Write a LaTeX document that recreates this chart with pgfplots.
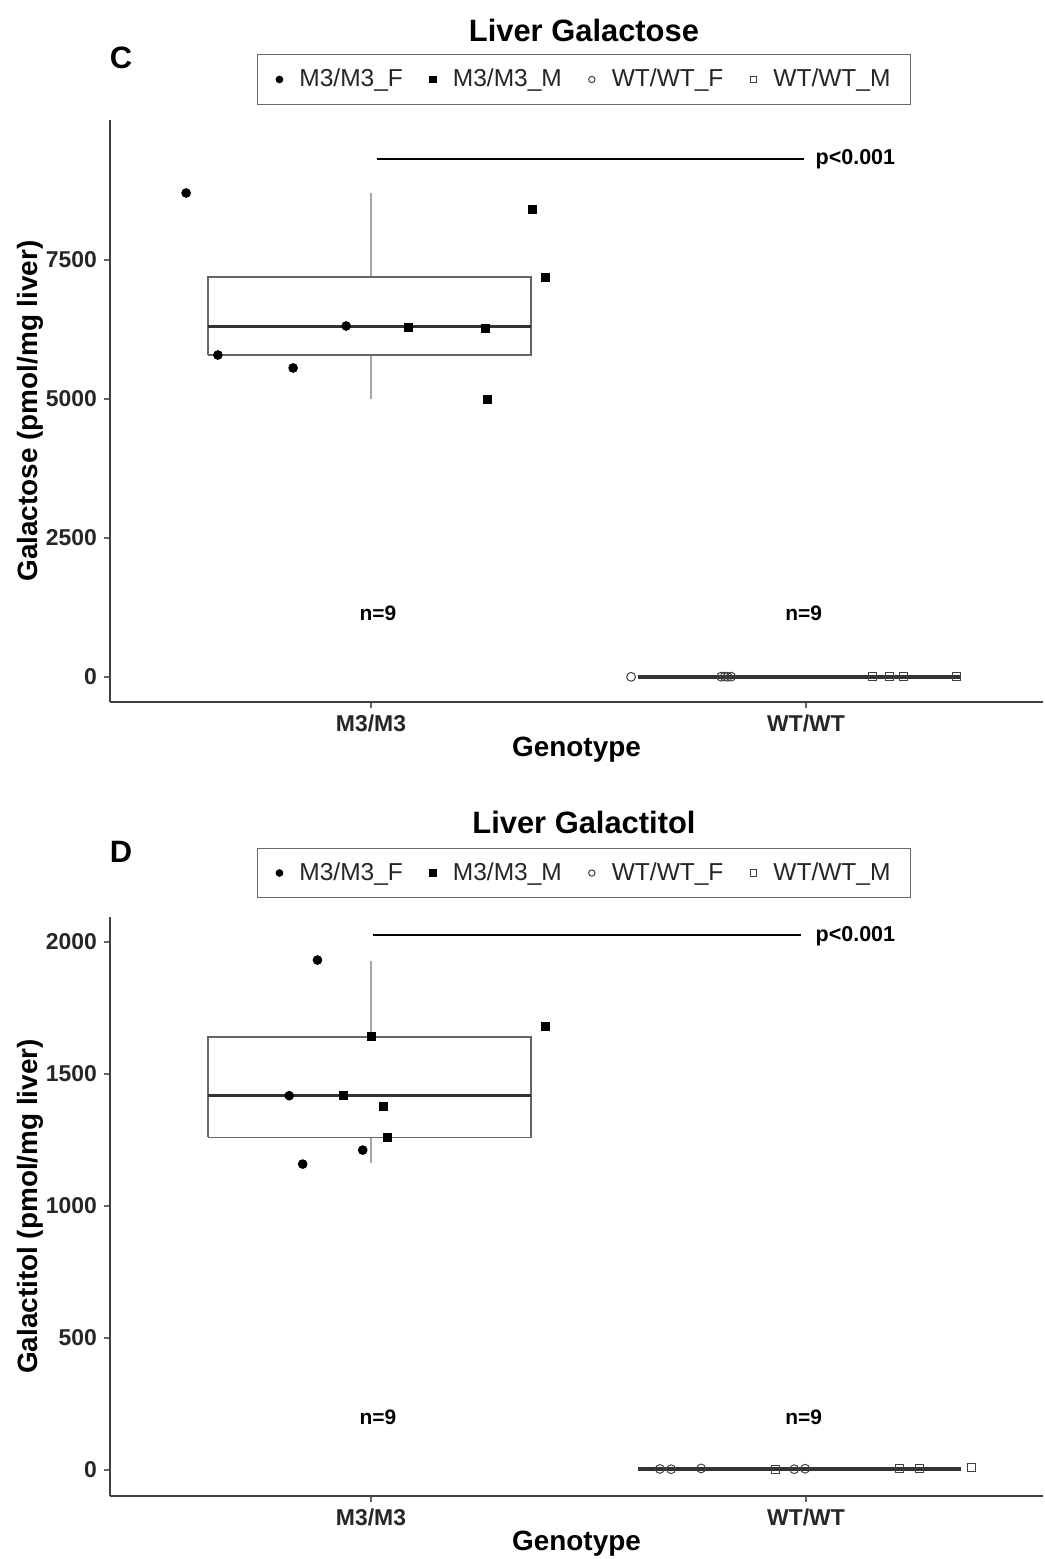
\documentclass[border=0pt]{standalone}
\usepackage{fontspec}
\setmainfont{Liberation Sans}
\usepackage{pgfplots}
\pgfplotsset{compat=1.18}

\pgfplotsset{
  ggpanel/.style={
    scale only axis, width=466.5bp,
    axis lines=left, axis line style={-, black!75, line width=0.75bp},
    tick align=outside, major tick length=3bp,
    tick style={black!60, line width=0.6bp},
    xmin=-0.6, xmax=1.545,
    xtick={0,1}, xticklabels={M3/M3,WT/WT},
    scaled y ticks=false,
    ticklabel style={font=\bfseries\fontsize{11.5}{13}\selectfont, text=black!85},
    /pgf/number format/assume math mode=true,
    /pgf/number format/1000 sep={},
    every axis x label/.style={at={(axis description cs:0.5,-0.082)}, anchor=center,
      font=\bfseries\fontsize{14}{16}\selectfont},
    every axis y label/.style={at={(axis description cs:-0.0857,0.5)}, anchor=center, rotate=90,
      font=\bfseries\fontsize{14}{16}\selectfont},
    xlabel={Genotype},
    clip=false,
    legend columns=4,
    legend style={anchor=center, draw=black!60, line width=0.6bp,
      font=\fontsize{12.3}{14}\selectfont, text=black!85,
      inner xsep=8bp, inner ysep=5.2bp,
      /tikz/every even column/.append style={column sep=10bp}},
    legend image code/.code={\path[draw=none, fill=none] (-3bp,-2bp) rectangle (8bp,2bp);
      \draw[#1, mark size=1.6bp] plot coordinates {(0bp,0bp)};},
  },
  mF/.style={only marks, mark=*, mark size=2.2bp, mark options={fill=black, draw=black}},
  mM/.style={only marks, mark=square*, mark size=2bp, mark options={fill=black, draw=black}},
  wF/.style={only marks, mark=o, mark size=2.2bp, mark options={draw=black!75, line width=0.5bp}},
  wM/.style={only marks, mark=square, mark size=2bp, mark options={draw=black!75, line width=0.5bp}},
  boxline/.style={forget plot, draw=black!60, line width=0.8bp},
  whisk/.style={forget plot, draw=black!35, line width=0.8bp},
  medline/.style={forget plot, draw=black!80, line width=1.6bp},
}

\begin{document}
\begin{tikzpicture}
\useasboundingbox (0,0) rectangle (522.5bp,-779.5bp);

% Panel C
\begin{axis}[ggpanel, at={(55bp,-351bp)}, anchor=south west, height=291bp,
    ymin=-450, ymax=10018, ytick={0,2500,5000,7500},
    ylabel={Galactose (pmol/mg liver)},
    legend style={at={(0.508,1.0696)}}]
  % M3/M3 box
  \addplot[whisk] coordinates {(0,7194) (0,8705)};
  \addplot[whisk] coordinates {(0,5791) (0,5000)};
  \addplot[boxline] coordinates {(-0.375,5791) (0.368,5791) (0.368,7194) (-0.375,7194) (-0.375,5791)};
  \addplot[medline] coordinates {(-0.375,6300) (0.368,6300)};
  % WT/WT box (collapsed)
  \addplot[boxline] coordinates {(0.613,0) (1.356,0)};
  \addplot[medline] coordinates {(0.613,0) (1.356,0)};
  % significance bar
  \addplot[forget plot, black, line width=1bp] coordinates {(0.0138,9317) (0.995,9317)};
  \addplot[mF] coordinates {(-0.425,8705) (-0.352,5791) (-0.179,5558) (-0.057,6313)};
  \addlegendentry{M3/M3\_F}
  \addplot[mM] coordinates {(0.085,6295) (0.262,6277) (0.267,5000) (0.370,8417) (0.402,7194)};
  \addlegendentry{M3/M3\_M}
  \addplot[wF] coordinates {(0.598,3) (0.805,5) (0.813,8) (0.820,4) (0.828,6)};
  \addlegendentry{WT/WT\_F}
  \addplot[wM] coordinates {(1.154,7) (1.193,9) (1.225,5) (1.345,12)};
  \addlegendentry{WT/WT\_M}
  \node[anchor=west, font=\bfseries\fontsize{10.8}{13}\selectfont] at (axis cs:1.006,9317) {p<0.001};
  \node[font=\bfseries\fontsize{10.5}{12}\selectfont] at (axis cs:0.016,1151) {n=9};
  \node[font=\bfseries\fontsize{10.5}{12}\selectfont] at (axis cs:0.995,1151) {n=9};
  \node[font=\bfseries\fontsize{15.5}{18}\selectfont] at (rel axis cs:0.508,1.1546) {Liver Galactose};
  \node[font=\bfseries\fontsize{15.5}{18}\selectfont] at (rel axis cs:0.0118,1.1065) {C};
\end{axis}

% Panel D
\begin{axis}[ggpanel, at={(55bp,-748bp)}, anchor=south west, height=289.5bp,
    ymin=-98.5, ymax=2095, ytick={0,500,1000,1500,2000},
    ylabel={Galactitol (pmol/mg liver)},
    legend style={at={(0.508,1.076)}}]
  \addplot[whisk] coordinates {(0,1641) (0,1929)};
  \addplot[whisk] coordinates {(0,1260) (0,1163)};
  \addplot[boxline] coordinates {(-0.375,1260) (0.368,1260) (0.368,1641) (-0.375,1641) (-0.375,1260)};
  \addplot[medline] coordinates {(-0.375,1418) (0.368,1418)};
  \addplot[boxline] coordinates {(0.615,4) (1.356,4)};
  \addplot[medline] coordinates {(0.615,4) (1.356,4)};
  \addplot[forget plot, black, line width=1bp] coordinates {(0.0046,2027) (0.989,2027)};
  \addplot[mF] coordinates {(-0.123,1932) (-0.188,1418) (-0.019,1212) (-0.157,1159)};
  \addlegendentry{M3/M3\_F}
  \addplot[mM] coordinates {(0.002,1641) (-0.064,1418) (0.029,1379) (0.038,1260) (0.402,1682)};
  \addlegendentry{M3/M3\_M}
  \addplot[wF] coordinates {(0.664,4) (0.690,3) (0.759,6) (0.973,3) (0.998,5)};
  \addlegendentry{WT/WT\_F}
  \addplot[wM] coordinates {(0.931,2) (1.214,5) (1.260,4) (1.381,9)};
  \addlegendentry{WT/WT\_M}
  \node[anchor=west, font=\bfseries\fontsize{10.8}{13}\selectfont] at (axis cs:1.006,2023) {p<0.001};
  \node[font=\bfseries\fontsize{10.5}{12}\selectfont] at (axis cs:0.016,201) {n=9};
  \node[font=\bfseries\fontsize{10.5}{12}\selectfont] at (axis cs:0.995,201) {n=9};
  \node[font=\bfseries\fontsize{15.5}{18}\selectfont] at (rel axis cs:0.508,1.164) {Liver Galactitol};
  \node[font=\bfseries\fontsize{15.5}{18}\selectfont] at (rel axis cs:0.0118,1.112) {D};
\end{axis}
\end{tikzpicture}
\end{document}
